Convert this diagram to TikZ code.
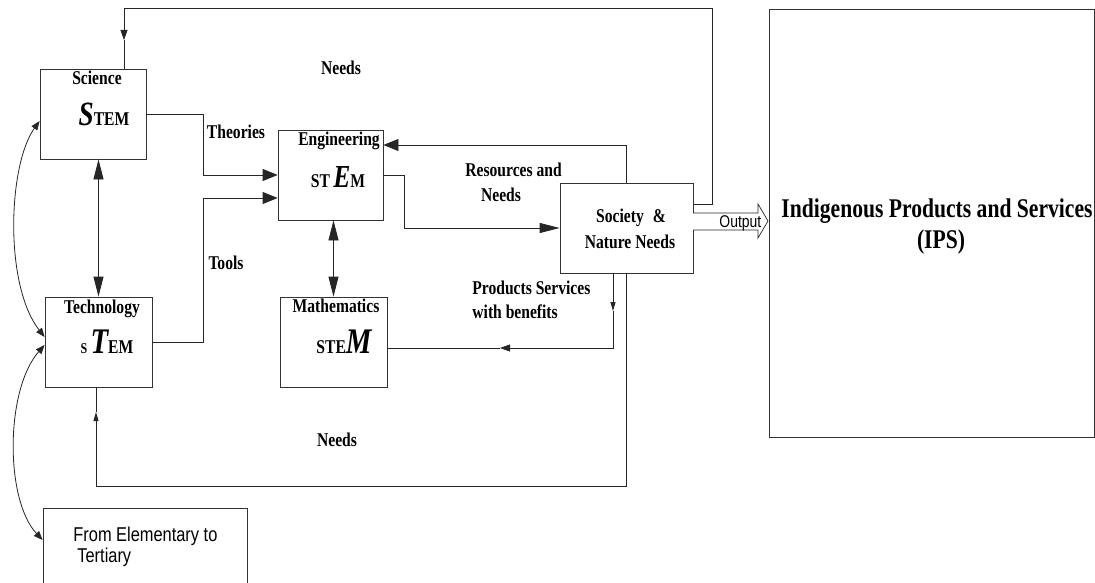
\documentclass[tikz,border=0pt]{standalone}
\usepackage{fontspec}
\setmainfont{Liberation Serif}
\newfontfamily\tms[FakeStretch=0.8]{Liberation Serif}
\newfontfamily\arl[FakeStretch=0.82]{Liberation Sans}
\usetikzlibrary{arrows.meta,calc}
\begin{document}
\begin{tikzpicture}[x=1pt,y=-1pt,
  line width=0.8pt,
  box/.style={draw=black!80,rectangle,inner sep=0pt},
  lab/.style={font=\tms\bfseries\fontsize{19.5}{19.5}\selectfont,inner sep=0pt,anchor=base},
  labw/.style={lab,anchor=base west},
  sans/.style={font=\arl\fontsize{20}{20}\selectfont,inner sep=0pt,anchor=base west},
  conn/.style={draw=black!85},
  big/.style={-{Triangle[length=20pt,width=10pt]}},
  bigg/.style={{Triangle[length=20pt,width=10pt]}-{Triangle[length=20pt,width=10pt]}},
  med/.style={-{Triangle[length=15pt,width=12pt]}},
  sml/.style={-{Triangle[length=10pt,width=7pt]}},
  tiny/.style={-{Triangle[length=9pt,width=5pt]}},
  crv/.style={{Triangle[length=9pt,width=7pt]}-{Triangle[length=9pt,width=7pt]}}
]
\useasboundingbox (0,0) rectangle (1095,583);
\fill[white] (0,0) rectangle (1095,583);

% boxes
\node[box,minimum width=106pt,minimum height=90pt] (sci) at (93,114) {};
\node[box,minimum width=105pt,minimum height=90pt] (eng) at (330.5,175) {};
\node[box,minimum width=107pt,minimum height=90pt] (tech) at (98.5,342) {};
\node[box,minimum width=107pt,minimum height=90pt] (math) at (333.5,342) {};
\node[box,minimum width=133pt,minimum height=90pt] (soc) at (626.5,228) {};
\node[box,minimum width=204pt,minimum height=80pt] (elem) at (145,548) {};

% box texts
\node[lab] (tsci) at (97,85) {Science};
\node[lab] (ssci) at (104,126) {{\fontsize{34}{34}\selectfont\itshape S}TEM};
\node[lab] (teng) at (339,146) {Engineering};
\node[lab] (seng) at (338,187) {ST\,{\fontsize{32}{32}\selectfont\itshape E}M};
\node[lab] (ttech) at (102,313) {Technology};
\node[lab] (stech) at (107,353) {{\fontsize{15}{15}\selectfont S}\,{\fontsize{36}{36}\selectfont\itshape T}EM};
\node[lab] (tmath) at (336,312) {Mathematics};
\node[lab] (smath) at (344,353) {STE{\fontsize{36}{36}\selectfont\itshape M}};
\node[lab] (tsoc1) at (631,222) {Society\hspace{9pt}\&};
\node[lab] (tsoc2) at (630,248) {Nature Needs};
\node[sans] (telem1) at (73,541) {From Elementary to};
\node[sans] (telem2) at (77,562) {Tertiary};

% edge labels
\node[lab] (lneeds1) at (341,75) {Needs};
\node[lab] (ltheo) at (236,139) {Theories};
\node[lab] (ltools) at (226,269) {Tools};
\node[lab] (lneeds2) at (337,446) {Needs};
\node[labw] (lres1) at (465,176) {Resources and};
\node[lab] (lres2) at (501,201) {Needs};
\node[labw] (lprod1) at (472,294) {Products Services};
\node[labw] (lprod2) at (472,318) {with benefits};

% connectors
\draw[conn,med] (sci.east) -- (203,114) |- (eng.west);
\draw[conn,med] (tech.east) -- (203,342) |- ([yshift=-23pt]eng.west);
\draw[conn,big] (eng.east) -- (404,175) |- (soc.west);
\draw[conn,med] (soc.north) |- ([yshift=30pt]eng.east);
\draw[conn,bigg] (tech.north |- sci.south) -- (tech.north);
\draw[conn,bigg] (math.north |- eng.south) -- (math.north);

% top needs loop
\coordinate (topR) at (712,8);
\coordinate (topL) at (124,8);
\coordinate (nd1) at (124,40);
\draw[conn,sml] ([yshift=24pt]soc.east) -| (topR) -- (topL) -- (nd1);
\draw[conn] (nd1) -- (sci.north -| nd1);

% bottom needs loop
\coordinate (botR) at (626.5,486);
\coordinate (botL) at (96,486);
\coordinate (nd2) at (96,412);
\draw[conn,tiny] (soc.south) -- (botR) -- (botL) -- (nd2);
\draw[conn] (nd2) -- (tech.south -| nd2);

% products loop
\coordinate (pr1) at (613,311);
\coordinate (pr2) at (613,348);
\coordinate (pr3) at (500,348);
\draw[conn,tiny] ([xshift=-13.5pt]soc.south) -- (pr1);
\draw[conn,sml] (pr1) -- (pr2) -- (pr3);
\draw[conn] (pr3) -- (math.east |- pr3);

% curved arrows
\draw[conn,crv] ([yshift=-7pt]sci.west) .. controls (8,165) and (4,285) .. ([yshift=5pt]tech.west);
\draw[conn,crv] ([yshift=-3pt]tech.west) .. controls (5,390) and (5,500) .. ([yshift=8pt]elem.west);

% output arrow
\draw[conn,line width=0.7pt,fill=white] (693,213) -- (758,213) -- (758,204) -- (768,221) -- (758,238) -- (758,230) -- (693,230);
\node[font=\arl\fontsize{17}{17}\selectfont,inner sep=0pt,anchor=base west] (lout) at (719,227) {Output};

% IPS box
\node[box,fill=white,minimum width=325.5pt,minimum height=428pt] (ips) at (931.75,223) {};
\node[lab,font=\tms\bfseries\fontsize{27}{27}\selectfont] (tips1) at (937,217) {Indigenous Products and Services};
\node[lab,font=\tms\bfseries\fontsize{27}{27}\selectfont] (tips2) at (941,248) {(IPS)};
\end{tikzpicture}
\end{document}
